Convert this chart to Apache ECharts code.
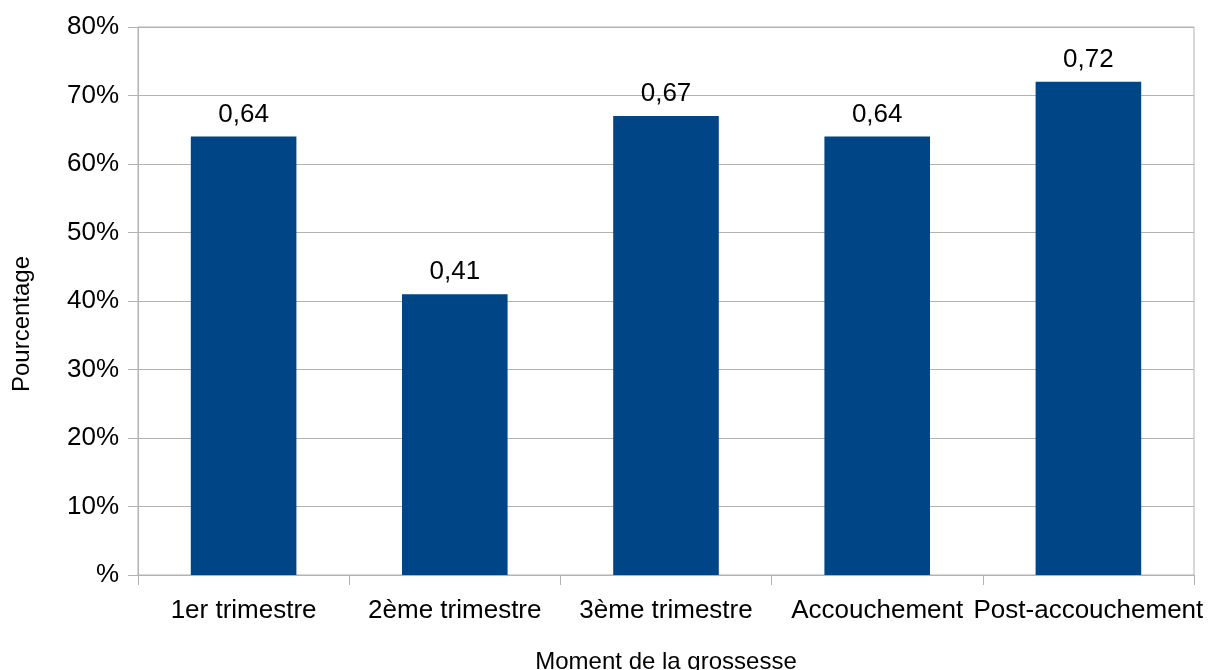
<!DOCTYPE html>
<html>
<head>
<meta charset="utf-8">
<style>
  html, body { margin: 0; padding: 0; background: #fff; overflow: hidden; }
  #chart { width: 1208px; height: 670px; }
</style>
<script src="https://cdn.jsdelivr.net/npm/echarts@6/dist/echarts.min.js"></script>
</head>
<body>
<div id="chart"></div>
<script>
// Moments of the pregnancy and the share observed at each one
const categories = ['1er trimestre', '2ème trimestre', '3ème trimestre', 'Accouchement', 'Post-accouchement'];
const values = [0.64, 0.41, 0.67, 0.64, 0.72];
const yTicks = [0, 0.1, 0.2, 0.3, 0.4, 0.5, 0.6, 0.7, 0.8];

const FONT = '"Liberation Sans", Arial, sans-serif';
const GRID = '#b3b3b3';

const chart = echarts.init(document.getElementById('chart'), null, { renderer: 'canvas' });

chart.setOption({
  animation: false,
  backgroundColor: '#ffffff',
  textStyle: { fontFamily: FONT, color: '#000' },
  grid: {
    left: 138, right: 14, top: 27, bottom: 95,
    outerBoundsMode: 'none',
    containLabel: false,
    show: true, borderColor: GRID, borderWidth: 1, backgroundColor: 'transparent'
  },
  xAxis: {
    type: 'category',
    data: categories,
    name: 'Moment de la grossesse',
    nameLocation: 'middle',
    nameGap: 75,
    nameTextStyle: { fontFamily: FONT, fontSize: 24, color: '#000' },
    axisLine: { show: true, lineStyle: { color: GRID, width: 1 } },
    axisTick: { show: true, alignWithLabel: false, length: 10, lineStyle: { color: GRID } },
    axisLabel: { fontFamily: FONT, fontSize: 26, color: '#000', margin: 23, interval: 0 },
    splitLine: { show: false }
  },
  yAxis: {
    type: 'value',
    min: yTicks[0],
    max: yTicks[yTicks.length - 1],
    interval: 0.1,
    name: 'Pourcentage',
    nameLocation: 'middle',
    nameGap: 104,
    nameRotate: 90,
    // the title sits a little below the middle of the axis
    nameTextStyle: { fontFamily: FONT, fontSize: 24, color: '#000', padding: [0, 46, 0, 0] },
    axisLine: { show: true, lineStyle: { color: GRID, width: 1 } },
    axisTick: { show: true, length: 10, lineStyle: { color: GRID } },
    axisLabel: {
      fontFamily: FONT, fontSize: 26, color: '#000', margin: 19,
      formatter: v => (Math.round(v * 100) === 0 ? '%' : Math.round(v * 100) + '%')
    },
    splitLine: { show: true, lineStyle: { color: GRID, width: 1 } }
  },
  series: [{
    type: 'bar',
    data: values,
    barWidth: '50%',
    itemStyle: { color: '#004586' },
    label: {
      show: true,
      position: 'top',
      distance: 9,
      fontFamily: FONT,
      fontSize: 26,
      color: '#000',
      formatter: p => p.value.toFixed(2).replace('.', ',')
    }
  }]
});
</script>
</body>
</html>
